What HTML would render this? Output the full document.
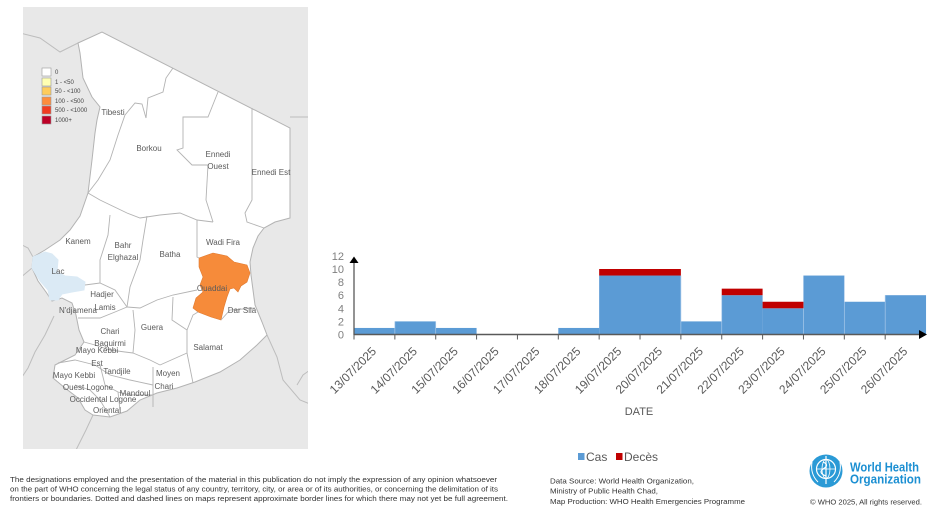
<!DOCTYPE html>
<html><head><meta charset="utf-8">
<style>
html,body{margin:0;padding:0;background:#fff;}
svg{display:block;}
text{font-family:"Liberation Sans",Arial,sans-serif;}
</style></head>
<body>
<svg width="945" height="515" viewBox="0 0 945 515" xmlns="http://www.w3.org/2000/svg">
<defs><clipPath id="mc"><rect x="23" y="7" width="285" height="442"/></clipPath></defs>
<!-- MAP -->
<rect x="23" y="7" width="285" height="442" fill="#e8e8e8"/>
<g clip-path="url(#mc)">
<!-- neighbour borders -->
<g fill="none" stroke="#bdbdbd" stroke-width="1">
<polyline points="20,33 40,38 60,52 78,43"/>
<polyline points="290,117 310,117"/>
<polyline points="267,335 277,357 283,380 300,400 310,404"/>
<polyline points="297,385 303,375 310,370"/>
<polyline points="93,415 86,430 75,452"/>
<polyline points="20,278 32,268"/>
<polyline points="54,316 45,335 35,352 28,368 20,380"/>
<polyline points="33,257 28,248 20,244"/>
</g>
<!-- Chad -->
<path d="M78,43 L102,32 L290,128 L290,218 L275,222 L264,228 L258,236 L253,248 L250,262 L251,275 L253,290 L255,305 L262,322 L267,335 L257,345 L240,360 L220,372 L195,382 L177,388 L157,393 L140,400 L127,411 L110,417 L93,415 L85,410 L78,398 L65,388 L53,378 L55,365 L75,355 L84,342 L79,330 L76,315 L72,303 L62,298 L52,301 L46,292 L38,281 L32,268 L33,257 L45,250 L60,240 L70,230 L80,216 L88,193 L92,160 L95,133 L97,120 L100,107 L92,97 L83,78 L80,53 Z" fill="#ffffff" stroke="#b3b3b3" stroke-width="1"/>
<path d="M33,257 L45,252 L52,254 L58,260 L57,272 L65,276 L77,277 L85,282 L84,290 L72,292 L62,294 L58,300 L50,300 L48,290 L40,281 L32,268 Z" fill="#dbeaf5" stroke="#dbeaf5"/>
<path d="M199,258 L213,253 L227,256 L234,262 L247,265 L250,273 L247,282 L241,286 L238,292 L234,288 L230,289 L227,297 L224,307 L221,320 L211,317 L198,312 L193,308 L196,298 L203,292 L200,285 L203,277 L199,267 Z" fill="#f68b3a" stroke="#e07a30" stroke-width="0.6"/>
<!-- internal borders -->
<g fill="none" stroke="#b3b3b3" stroke-width="0.9">
<polyline points="173,68 166,78 163,92 148,98 146,118 142,104 135,103 125,115 118,135 110,160 98,180 88,193"/>
<polyline points="218,92 208,117 183,117 183,148 177,150 192,165 208,165 206,200 213,222"/>
<polyline points="252,108 252,200 245,213 247,222 264,228"/>
<polyline points="88,193 100,200 127,213 140,218 160,215 180,213 197,220 213,222"/>
<polyline points="110,215 108,235 100,260 100,283"/>
<polyline points="147,216 143,240 140,260 130,287 127,307"/>
<polyline points="197,220 197,257 199,258"/>
<polyline points="85,285 100,283 115,290 127,307"/>
<polyline points="127,307 140,308 157,300 173,295 197,290"/>
<polyline points="78,318 100,318 115,312 127,307"/>
<polyline points="133,310 135,330 133,353 150,360 160,365"/>
<polyline points="173,297 172,320 187,330 187,353 160,365"/>
<polyline points="187,330 193,315 198,312"/>
<polyline points="221,320 230,310 255,308"/>
<polyline points="153,367 153,385 153,407"/>
<polyline points="187,353 193,383"/>
<polyline points="84,342 95,345 110,350 125,352 133,353"/>
<polyline points="58,363 75,360 95,365 110,375 130,380 153,385"/>
<polyline points="100,365 105,385 118,392"/>
<polyline points="118,392 130,395 153,395"/>
<polyline points="75,385 90,390 100,400 110,417"/>
<polyline points="118,392 120,410"/>
</g>
<!-- labels -->
<g font-size="8" fill="#5a5a5a" text-anchor="middle">
<text x="113" y="115">Tibesti</text>
<text x="149" y="151">Borkou</text>
<text x="218" y="157">Ennedi</text>
<text x="218" y="169">Ouest</text>
<text x="271" y="175">Ennedi Est</text>
<text x="78" y="244">Kanem</text>
<text x="123" y="248">Bahr</text>
<text x="123" y="260">Elghazal</text>
<text x="170" y="257">Batha</text>
<text x="223" y="245">Wadi Fira</text>
<text x="58" y="274">Lac</text>
<text x="102" y="297">Hadjer</text>
<text x="105" y="310">Lamis</text>
<text x="78" y="313">N'djamena</text>
<text x="212" y="291">Ouaddai</text>
<text x="242" y="313">Dar Sila</text>
<text x="110" y="334">Chari</text>
<text x="152" y="330">Guera</text>
<text x="110" y="346">Baguirmi</text>
<text x="97" y="353">Mayo Kebbi</text>
<text x="97" y="366">Est</text>
<text x="208" y="350">Salamat</text>
<text x="74" y="378">Mayo Kebbi</text>
<text x="117" y="374">Tandjile</text>
<text x="168" y="376">Moyen</text>
<text x="88" y="390">Ouest Logone</text>
<text x="164" y="389">Chari</text>
<text x="135" y="396">Mandoul</text>
<text x="103" y="402">Occidental Logone</text>
<text x="107" y="413">Oriental</text>
</g>
<!-- map legend -->
<g stroke="#9a9a9a" stroke-width="0.6">
<rect x="42" y="68" width="9" height="8" fill="#ffffff"/>
<rect x="42" y="78" width="9" height="8" fill="#ffffb2"/>
<rect x="42" y="87" width="9" height="8" fill="#fecc5c"/>
<rect x="42" y="97" width="9" height="8" fill="#fd8d3c"/>
<rect x="42" y="106" width="9" height="8" fill="#f03b20"/>
<rect x="42" y="116" width="9" height="8" fill="#bd0026"/>
</g>
<g font-size="6" fill="#444">
<text x="55" y="74">0</text>
<text x="55" y="84">1 - &lt;50</text>
<text x="55" y="93">50 - &lt;100</text>
<text x="55" y="103">100 - &lt;500</text>
<text x="55" y="112">500 - &lt;1000</text>
<text x="55" y="122">1000+</text>
</g>
</g>

<!-- CHART -->
<g>
<!-- cases -->
<g fill="#5b9bd5">
<rect x="354" y="327.95" width="40.86" height="6.55"/>
<rect x="394.86" y="321.4" width="40.86" height="13.1"/>
<rect x="435.72" y="327.95" width="40.86" height="6.55"/>
<rect x="558.3" y="327.95" width="40.86" height="6.55"/>
<rect x="599.16" y="275.55" width="81.72" height="58.95"/>
<rect x="680.88" y="321.4" width="40.86" height="13.1"/>
<rect x="721.74" y="295.2" width="40.86" height="39.3"/>
<rect x="762.6" y="308.3" width="40.86" height="26.2"/>
<rect x="803.46" y="275.55" width="40.86" height="58.95"/>
<rect x="844.32" y="301.75" width="40.86" height="32.75"/>
<rect x="885.18" y="295.2" width="40.86" height="39.3"/>
</g>
<g fill="none" stroke="#a9c9ea" stroke-width="0.7">
<line x1="394.86" y1="321.4" x2="394.86" y2="334"/>
<line x1="435.72" y1="321.4" x2="435.72" y2="334"/>
<line x1="680.88" y1="275.55" x2="680.88" y2="334"/>
<line x1="721.74" y1="295.2" x2="721.74" y2="334"/>
<line x1="803.46" y1="275.55" x2="803.46" y2="334"/>
<line x1="844.32" y1="275.55" x2="844.32" y2="334"/>
<line x1="885.18" y1="295.2" x2="885.18" y2="334"/>
</g>
<!-- deaths -->
<g fill="#c00000">
<rect x="599.16" y="269" width="81.72" height="6.55"/>
<rect x="721.74" y="288.65" width="40.86" height="6.55"/>
<rect x="762.6" y="301.75" width="40.86" height="6.55"/>
</g>
<!-- axes -->
<line x1="354" y1="334.5" x2="921" y2="334.5" stroke="#595959" stroke-width="1.5"/>
<polygon points="927,334.5 919,330 919,339" fill="#000"/>
<line x1="354" y1="335" x2="354" y2="261" stroke="#595959" stroke-width="1.3"/>
<polygon points="354,256.5 349.5,263 358.5,263" fill="#000"/>
<g stroke="#595959" stroke-width="1">
<line x1="354" y1="335" x2="354" y2="339.5"/>
<line x1="394.86" y1="335" x2="394.86" y2="339.5"/>
<line x1="435.72" y1="335" x2="435.72" y2="339.5"/>
<line x1="476.58" y1="335" x2="476.58" y2="339.5"/>
<line x1="517.44" y1="335" x2="517.44" y2="339.5"/>
<line x1="558.3" y1="335" x2="558.3" y2="339.5"/>
<line x1="599.16" y1="335" x2="599.16" y2="339.5"/>
<line x1="640.02" y1="335" x2="640.02" y2="339.5"/>
<line x1="680.88" y1="335" x2="680.88" y2="339.5"/>
<line x1="721.74" y1="335" x2="721.74" y2="339.5"/>
<line x1="762.6" y1="335" x2="762.6" y2="339.5"/>
<line x1="803.46" y1="335" x2="803.46" y2="339.5"/>
<line x1="844.32" y1="335" x2="844.32" y2="339.5"/>
<line x1="885.18" y1="335" x2="885.18" y2="339.5"/>
</g>
<!-- y labels -->
<g font-size="11" fill="#7f7f7f" text-anchor="end">
<text x="344" y="338.5">0</text>
<text x="344" y="325.4">2</text>
<text x="344" y="312.3">4</text>
<text x="344" y="299.2">6</text>
<text x="344" y="286.1">8</text>
<text x="344" y="273">10</text>
<text x="344" y="259.9">12</text>
</g>
<!-- x labels -->
<g font-size="12" fill="#595959" text-anchor="end">
<text transform="translate(377,352) rotate(-45)">13/07/2025</text>
<text transform="translate(417.9,352) rotate(-45)">14/07/2025</text>
<text transform="translate(458.7,352) rotate(-45)">15/07/2025</text>
<text transform="translate(499.6,352) rotate(-45)">16/07/2025</text>
<text transform="translate(540.4,352) rotate(-45)">17/07/2025</text>
<text transform="translate(581.3,352) rotate(-45)">18/07/2025</text>
<text transform="translate(622.2,352) rotate(-45)">19/07/2025</text>
<text transform="translate(663,352) rotate(-45)">20/07/2025</text>
<text transform="translate(703.9,352) rotate(-45)">21/07/2025</text>
<text transform="translate(744.7,352) rotate(-45)">22/07/2025</text>
<text transform="translate(785.6,352) rotate(-45)">23/07/2025</text>
<text transform="translate(826.5,352) rotate(-45)">24/07/2025</text>
<text transform="translate(867.3,352) rotate(-45)">25/07/2025</text>
<text transform="translate(908.2,352) rotate(-45)">26/07/2025</text>
</g>
<text x="639" y="415" font-size="11" fill="#595959" text-anchor="middle">DATE</text>
<!-- legend -->
<rect x="578" y="453" width="6.5" height="7" fill="#5b9bd5"/>
<text x="586" y="461" font-size="12" fill="#595959">Cas</text>
<rect x="616" y="453" width="6.5" height="7" fill="#c00000"/>
<text x="624" y="461" font-size="12" fill="#595959">Decès</text>
</g>

<!-- FOOTER -->
<g font-size="7" fill="#333">
<text x="10" y="482" textLength="487" lengthAdjust="spacingAndGlyphs">The designations employed and the presentation of the material in this publication do not imply the expression of any opinion whatsoever</text>
<text x="10" y="491.5" textLength="488" lengthAdjust="spacingAndGlyphs">on the part of WHO concerning the legal status of any country, territory, city, or area or of its authorities, or concerning the delimitation of its</text>
<text x="10" y="501" textLength="498" lengthAdjust="spacingAndGlyphs">frontiers or boundaries. Dotted and dashed lines on maps represent approximate border lines for which there may not yet be full agreement.</text>
</g>
<g font-size="7.5" fill="#333">
<text x="550" y="483.5" textLength="144" lengthAdjust="spacingAndGlyphs">Data Source: World Health Organization,</text>
<text x="550" y="493.5" textLength="108" lengthAdjust="spacingAndGlyphs">Ministry of Public Health Chad,</text>
<text x="550" y="504" textLength="195" lengthAdjust="spacingAndGlyphs">Map Production: WHO Health Emergencies Programme</text>
<text x="810" y="504.5" textLength="112" lengthAdjust="spacingAndGlyphs">© WHO 2025, All rights reserved.</text>
</g>
<!-- WHO emblem -->
<g>
<circle cx="826" cy="471" r="16.5" fill="#2a9ad6"/>
<circle cx="826" cy="469" r="9.5" fill="none" stroke="#ffffff" stroke-width="1.2"/>
<line x1="826" y1="456" x2="826" y2="484" stroke="#ffffff" stroke-width="1.2"/>
<ellipse cx="826" cy="469" rx="4" ry="9.5" fill="none" stroke="#fff" stroke-width="0.8"/>
<line x1="816.5" y1="469" x2="835.5" y2="469" stroke="#fff" stroke-width="0.8"/>
<path d="M812,462 Q810,474 818,482 M840,462 Q842,474 834,482" fill="none" stroke="#fff" stroke-width="1"/>
<path d="M823,462 Q830,465 823,469 Q818,473 826,476" fill="none" stroke="#fff" stroke-width="1.2"/>
</g>
<g font-weight="bold" font-size="12.5" fill="#1b8fd2">
<text x="850" y="471.5" textLength="69" lengthAdjust="spacingAndGlyphs">World Health</text>
<text x="850" y="483.5" textLength="71" lengthAdjust="spacingAndGlyphs">Organization</text>
</g>
</svg>
</body></html>
